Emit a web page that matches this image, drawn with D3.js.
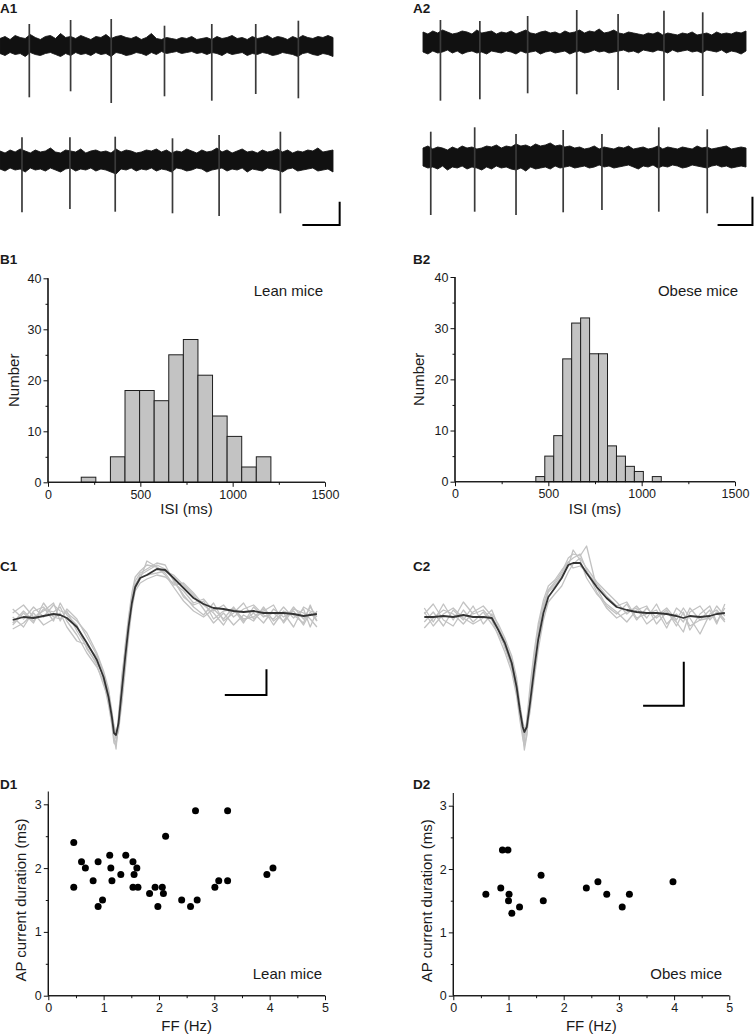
<!DOCTYPE html>
<html><head><meta charset="utf-8">
<script src="https://cdn.jsdelivr.net/npm/d3@7"></script>
<style>
body{margin:0;background:#fff}
svg{display:block}
text{font-family:Arial,"Liberation Sans",Helvetica,sans-serif;fill:#1a1a1a}
</style>
</head><body>
<svg id="fig" width="755" height="1035"></svg>
<script>
// ---------------- DATA ----------------
// A: extracellular traces (time in s, amplitude in a.u.), noise envelope sampled evenly over 0-5 s
const noiseSamples = 67;
const a1TopUpper = [7,9,6,10,8,7,11,8,6,9,10,7,12,8,9,7,10,8,6,9,8,11,7,9,10,8,7,9,6,8,12,7,6,8,7,6,8,7,9,6,7,8,6,9,7,8,10,7,8,6,9,7,8,10,7,9,8,6,9,7,10,8,7,9,8,10,8];
const a1TopLower = [-8,-10,-7,-9,-8,-11,-7,-9,-10,-8,-7,-9,-11,-8,-10,-7,-9,-8,-10,-7,-9,-8,-11,-7,-8,-10,-9,-7,-8,-10,-7,-9,-6,-8,-7,-6,-8,-7,-6,-8,-7,-9,-7,-8,-10,-7,-9,-8,-7,-10,-8,-9,-7,-8,-10,-9,-7,-8,-9,-11,-8,-7,-9,-10,-8,-9,-11];
const a1TopSpikeT = [0.44,1.06,1.67,2.47,3.18,3.84,4.48];
const a1TopSpikeUp = [21.5,25.5,26.5,19.8,21.5,21.5,24.8];
const a1TopSpikeDown = [51.8,45.8,57.5,50.8,55.2,48.5,52.8];

const a1BotUpper = [9,7,10,8,11,9,7,10,8,9,12,8,7,10,9,8,11,7,9,10,8,9,7,11,8,10,9,7,8,10,9,11,8,10,7,9,8,11,9,7,10,8,9,12,8,10,7,9,11,8,9,7,10,8,9,11,8,10,7,9,8,10,9,12,8,9,10];
const a1BotLower = [-9,-11,-8,-10,-9,-12,-8,-10,-9,-11,-8,-10,-12,-9,-8,-11,-9,-10,-8,-11,-9,-10,-12,-14,-9,-10,-8,-11,-9,-10,-8,-11,-9,-10,-12,-8,-9,-11,-10,-8,-9,-12,-10,-9,-8,-11,-9,-10,-8,-12,-9,-10,-11,-8,-9,-10,-12,-9,-8,-11,-10,-9,-8,-11,-10,-9,-12];
const a1BotSpikeT = [0.33,1.05,1.73,2.59,3.29,4.21];
const a1BotSpikeUp = [22.7,22.7,23.3,21.7,25,28.3];
const a1BotSpikeDown = [52.3,49,51.7,53.3,56,53.3];

const a2TopUpper = [10,8,11,9,12,10,8,9,11,10,8,12,9,10,11,8,10,9,11,8,10,12,9,8,10,11,9,10,8,11,9,10,12,9,11,10,13,9,10,12,9,8,10,9,8,7,9,8,10,7,9,8,7,9,8,10,7,8,9,7,10,8,9,8,10,9,11];
const a2TopLower = [-10,-12,-9,-11,-10,-8,-11,-9,-12,-10,-9,-11,-10,-12,-9,-10,-11,-9,-10,-12,-9,-11,-10,-9,-12,-10,-9,-11,-10,-9,-12,-10,-9,-11,-10,-8,-10,-9,-11,-10,-9,-8,-10,-9,-11,-8,-9,-10,-8,-9,-11,-8,-10,-9,-8,-10,-9,-11,-8,-9,-10,-8,-11,-9,-10,-12,-9];
const a2TopSpikeT = [0.27,0.88,1.62,2.38,3.02,3.73,4.33];
const a2TopSpikeUp = [22,21,26,32,28,31.3,29.7];
const a2TopSpikeDown = [58.7,57.3,51.3,52.3,48,58.7,54];

const a2BotUpper = [9,11,8,10,9,7,10,8,11,9,10,8,9,11,10,12,9,11,10,13,11,12,10,13,11,12,14,11,12,10,11,9,10,8,9,11,8,10,9,8,10,9,11,8,9,10,8,9,11,8,10,9,8,10,9,8,11,9,10,8,9,10,11,8,9,10,9];
const a2BotLower = [-9,-11,-10,-12,-9,-13,-10,-11,-9,-12,-10,-11,-13,-10,-12,-9,-11,-10,-12,-13,-11,-14,-10,-12,-11,-10,-12,-9,-11,-10,-9,-11,-10,-9,-11,-10,-8,-10,-9,-11,-10,-9,-8,-10,-12,-9,-10,-8,-11,-9,-10,-8,-9,-11,-10,-8,-9,-10,-11,-9,-8,-10,-9,-11,-10,-9,-10];
const a2BotSpikeT = [0.12,0.80,1.44,2.17,2.77,3.65,4.40];
const a2BotSpikeUp = [25.3,29.7,23,27,23,29.7,27.7];
const a2BotSpikeDown = [58,54.7,58,55.3,53,54.7,56.3];

// B: ISI histograms
const leanBinEdges = [180,259,338,417,496,575,654,733,812,891,970,1049,1128,1207];
const leanCounts = [1,0,5,18,18,16,25,28,21,13,9,3,5];
const obeseBinEdges = [433,481,529,577,625,673,721,769,817,865,913,961,1009,1057,1105];
const obeseCounts = [1,5,9,24,31,32,25,25,7,5,3,2,0,1];
const isiTicks = [0,500,1000,1500];
const countTicks = [0,10,20,30,40];

// C: AP current waveforms (time ms, amplitude a.u.)
const c1Time = [0,0.26,0.50,0.74,0.98,1.14,1.30,1.54,1.78,2.02,2.18,2.30,2.38,2.43,2.48,2.54,2.62,2.70,2.78,2.86,2.94,3.06,3.22,3.46,3.66,3.86,4.10,4.34,4.58,4.82,5.06,5.30,5.54,5.78,6.02,6.26,6.50,6.74,6.98,7.14,7.30];
const c1Mean = [-5,-2,-3,-1,1,0,-3,-12,-28,-45,-62,-82,-102,-118,-120,-108,-75,-42,-12,12,28,37,40,46,45,37,27,17,11,7,6,4,3,4,2,2,2,1,-1,0,1];
const c1Sweep1 = [-8,4,-6,6,3,8,-6,-20,-38,-52,-66,-90,-110,-128,-130,-112,-70,-30,-2,22,38,44,50,48,40,28,14,4,-2,6,-4,8,-6,2,-8,6,-2,4,-10,3,-6];
const c1Sweep2 = [6,-4,8,-2,10,4,2,-6,-18,-38,-56,-74,-96,-114,-124,-116,-88,-55,-22,6,24,32,36,40,38,32,24,12,16,4,10,-2,6,10,0,-4,8,-3,6,-12,4];
const c1Sweep3 = [-14,-8,2,-10,-4,2,-12,-26,-30,-42,-64,-86,-104,-122,-134,-104,-60,-34,-8,18,34,42,46,52,50,34,20,8,0,12,-6,2,12,-4,4,10,-8,6,2,-4,-12];
const c1Sweep4 = [2,10,-2,4,12,-6,6,-4,-22,-40,-58,-80,-98,-110,-118,-112,-84,-46,-16,8,30,38,40,42,44,40,30,20,6,-8,2,-10,0,-6,8,-6,2,-12,8,4,2];
const c1Sweep5 = [-2,-12,4,8,-6,12,0,-10,-34,-48,-60,-76,-106,-124,-128,-100,-66,-38,-10,16,26,36,54,48,42,30,32,22,10,2,-10,6,-8,8,-2,2,-6,8,-4,8,-2];
const c1Sweep6 = [-10,2,-8,12,-2,-4,4,-16,-32,-50,-70,-84,-100,-116,-122,-106,-72,-40,-14,10,30,40,44,50,46,36,18,10,14,-4,4,6,-4,-2,6,-10,4,0,-8,10,-6];

const c2Time = [0,0.22,0.47,0.71,0.96,1.20,1.45,1.66,1.82,1.98,2.15,2.27,2.35,2.42,2.46,2.52,2.60,2.70,2.80,2.93,3.05,3.21,3.38,3.54,3.66,3.83,3.99,4.24,4.48,4.73,4.98,5.22,5.47,5.71,5.96,6.20,6.37,6.53,6.78,7.02,7.19,7.39];
const c2Mean = [-1,-1,0,-1,1,-1,-1,-2,-14,-27,-47,-71,-94,-111,-116,-111,-87,-54,-24,3,19,28,38,51,53,53,43,29,18,9,6,4,3,3,2,0,-2,0,-1,0,2,3];
const c2Sweep1 = [8,-6,12,-4,14,2,6,-4,-20,-36,-56,-80,-104,-122,-130,-118,-80,-44,-12,10,26,34,44,58,62,60,70,28,10,2,12,-4,8,-2,6,-10,4,-14,2,10,-6,8];
const c2Sweep2 = [-6,4,-10,6,-4,10,-8,2,-8,-22,-40,-62,-88,-106,-112,-114,-96,-64,-34,-4,14,22,30,44,52,58,48,34,24,14,2,10,-2,12,-8,2,-6,8,-4,-2,10,0];
const c2Sweep3 = [2,12,-4,-10,6,-6,4,-8,-18,-30,-52,-76,-98,-118,-134,-120,-84,-48,-18,8,24,30,40,50,66,56,38,22,12,4,-6,6,10,-8,4,-6,-16,4,10,-4,4,-6];
const c2Sweep4 = [-12,-2,6,2,-8,4,10,0,-12,-24,-44,-68,-90,-108,-120,-106,-78,-42,-16,12,26,32,42,54,48,50,44,32,20,10,14,-2,2,6,-12,8,2,-10,-4,6,-8,12];
const c2Sweep5 = [4,-10,2,8,-2,-8,-2,6,-10,-32,-50,-72,-96,-114,-126,-104,-70,-36,-8,16,30,36,46,54,58,62,46,24,8,-2,4,8,-8,0,8,-4,8,-2,-18,2,6,-4];

// D: FF vs AP current duration
const leanFF  = [0.46,0.46,0.60,0.67,0.81,0.90,0.90,0.98,1.11,1.13,1.15,1.31,1.40,1.53,1.55,1.53,1.60,1.62,1.83,1.93,1.98,2.06,2.08,2.12,2.41,2.57,2.66,2.69,3.01,3.08,3.24,3.24,3.95,4.06];
const leanDur = [2.4,1.7,2.1,2.0,1.8,2.1,1.4,1.5,2.2,2.0,1.8,1.9,2.2,2.1,1.9,1.7,2.0,1.7,1.6,1.7,1.4,1.7,1.6,2.5,1.5,1.4,2.9,1.5,1.7,1.8,2.9,1.8,1.9,2.0];
const obeseFF  = [0.59,0.86,0.89,0.99,1.01,1.00,1.06,1.20,1.59,1.63,2.41,2.62,2.78,3.06,3.19,3.98];
const obeseDur = [1.6,1.7,2.3,2.3,1.6,1.5,1.3,1.4,1.9,1.5,1.7,1.8,1.6,1.4,1.6,1.8];
const ffTicks = [0,1,2,3,4,5];
const durTicks = [0,1,2,3];

// ---------------- DRAW ----------------
const svg = d3.select("#fig");

function panelLabel(txt, x, y){
  svg.append("text").attr("x",x).attr("y",y).attr("font-size",13.5).attr("font-weight","bold").text(txt);
}

// ---- A traces ----
function drawTrace(g, xs, baseY, upper, lower, spT, spUp, spDown){
  const y = d3.scaleLinear().domain([-60,40]).range([baseY+60, baseY-40]);
  const tGrid = d3.range(noiseSamples).map(i => xs.domain()[1]*i/(noiseSamples-1));
  const band = tGrid.map((t,i)=>({t, u:upper[i], l:lower[i]}));
  g.append("path").datum(band)
    .attr("d", d3.area().x(d=>xs(d.t)).y0(d=>y(d.l)).y1(d=>y(d.u)).curve(d3.curveLinear))
    .attr("fill","#111").attr("stroke","#161616").attr("stroke-width",0.9).attr("stroke-linejoin","miter");
  g.selectAll(null).data(spT.map((t,i)=>({t, up:spUp[i], dn:spDown[i]}))).join("line")
    .attr("x1",d=>xs(d.t)).attr("x2",d=>xs(d.t))
    .attr("y1",d=>y(d.up)).attr("y2",d=>y(-d.dn))
    .attr("stroke","#3a3a3a").attr("stroke-width",1.7);
  return y;
}
function scaleBar(g, xs, ys, t0, a0, dt, da){
  g.append("path")
    .attr("d", `M${xs(t0-dt)},${ys(a0)}L${xs(t0)},${ys(a0)}L${xs(t0)},${ys(a0+da)}`)
    .attr("fill","none").attr("stroke","#000").attr("stroke-width",2);
}
{
  const gA = svg.append("g");
  const xA1 = d3.scaleLinear().domain([0,5]).range([0,333]);
  const xA2 = d3.scaleLinear().domain([0,5]).range([423,746]);
  drawTrace(gA, xA1, 45.5, a1TopUpper, a1TopLower, a1TopSpikeT, a1TopSpikeUp, a1TopSpikeDown);
  const yA1b = drawTrace(gA, xA1, 160, a1BotUpper, a1BotLower, a1BotSpikeT, a1BotSpikeUp, a1BotSpikeDown);
  drawTrace(gA, xA2, 42, a2TopUpper, a2TopLower, a2TopSpikeT, a2TopSpikeUp, a2TopSpikeDown);
  const yA2b = drawTrace(gA, xA2, 157, a2BotUpper, a2BotLower, a2BotSpikeT, a2BotSpikeUp, a2BotSpikeDown);
  scaleBar(gA, xA1, yA1b, 5.1, -65, 0.56, 23.3);
  scaleBar(gA, xA2, yA2b, 5.1, -68, 0.54, 28.3);
}
panelLabel("A1", 0, 13);
panelLabel("A2", 413, 13);

// ---- axes helper ----
function axes(g, x, y, xMajor, xMinor, yMajor, yMinor, xFmt){
  const ax = g.append("g").attr("transform",`translate(0,${y.range()[0]})`)
    .call(d3.axisBottom(x).tickValues(xMinor).tickSize(2.5).tickFormat(""));
  const ax2 = g.append("g").attr("transform",`translate(0,${y.range()[0]})`)
    .call(d3.axisBottom(x).tickValues(xMajor).tickSize(4.5).tickPadding(3).tickFormat(xFmt||d3.format("d")));
  const ay = g.append("g").attr("transform",`translate(${x.range()[0]},0)`)
    .call(d3.axisLeft(y).tickValues(yMinor).tickSize(2.5).tickFormat(""));
  const ay2 = g.append("g").attr("transform",`translate(${x.range()[0]},0)`)
    .call(d3.axisLeft(y).tickValues(yMajor).tickSize(4.5).tickPadding(2).tickFormat(d3.format("d")));
  [ax,ax2,ay,ay2].forEach(s=>{
    s.selectAll("path.domain").attr("stroke","#111").attr("stroke-width",1.1);
    s.selectAll(".tick line").attr("stroke","#111").attr("stroke-width",1);
    s.selectAll(".tick text").attr("font-size",12.5).attr("fill","#1a1a1a")
      .attr("font-family","Arial, 'Liberation Sans', sans-serif");
  });
  [ax,ax2].forEach(s=>s.select("path.domain").attr("d",`M${x.range()[0]},0H${x.range()[1]}`));
  [ay,ay2].forEach(s=>s.select("path.domain").attr("d",`M0,${y.range()[0]}V${y.range()[1]}`));
}

// ---- B histograms ----
function histogram(binEdges, counts, xr, yr, label, labelX, titleX){
  const g = svg.append("g");
  const x = d3.scaleLinear().domain([0,1500]).range(xr);
  const y = d3.scaleLinear().domain([0,40]).range(yr);
  const bars = counts.map((c,i)=>({x0:binEdges[i], x1:binEdges[i+1], c})).filter(d=>d.c>0);
  g.selectAll("rect").data(bars).join("rect")
    .attr("x",d=>x(d.x0)).attr("width",d=>x(d.x1)-x(d.x0))
    .attr("y",d=>y(d.c)).attr("height",d=>y(0)-y(d.c))
    .attr("fill","#c3c3c3").attr("stroke","#1e1e1e").attr("stroke-width",1);
  axes(g, x, y, isiTicks, [250,750,1250], countTicks, [5,15,25,35]);
  g.append("text").attr("x",(xr[0]+xr[1])/2).attr("y",514).attr("text-anchor","middle").attr("font-size",15).text("ISI (ms)");
  g.append("text").attr("transform",`translate(${titleX},${(yr[0]+yr[1])/2}) rotate(-90)`)
    .attr("text-anchor","middle").attr("font-size",15).attr("dy","0.35em").text("Number");
  g.append("text").attr("x",labelX).attr("y",296).attr("text-anchor","end").attr("font-size",15).text(label);
}
histogram(leanBinEdges, leanCounts, [48,325], [482.3,278.3], "Lean mice", 323, 14);
histogram(obeseBinEdges, obeseCounts, [455,735], [481.7,277], "Obese mice", 738, 419);
panelLabel("B1", 0, 264);
panelLabel("B2", 413, 264);

// ---- C waveforms ----
function waveform(time, mean, sweeps, xr, x0, y0, barT, barA, barDT, barDA){
  const g = svg.append("g");
  const x = d3.scaleLinear().domain([0,1]).range([x0, x0+xr]);
  const y = d3.scaleLinear().domain([0,1]).range([y0, y0-1]);
  const line = vals => d3.line().x((d,i)=>x(time[i])).y(d=>y(d)).curve(d3.curveLinear)(vals);
  sweeps.forEach(s=>{
    g.append("path").attr("d",line(s)).attr("fill","none").attr("stroke","#c2c2c2").attr("stroke-width",1.3).attr("stroke-linejoin","round");
  });
  g.append("path").attr("d",line(mean)).attr("fill","none").attr("stroke","#333").attr("stroke-width",1.8).attr("stroke-linejoin","round");
  scaleBar(g, x, y, barT, barA, barDT, barDA);
}
waveform(c1Time, c1Mean, [c1Sweep1,c1Sweep2,c1Sweep3,c1Sweep4,c1Sweep5,c1Sweep6], 41.67, 12.7, 615, 6.09, -80, 1, 25.7);
waveform(c2Time, c2Mean, [c2Sweep1,c2Sweep2,c2Sweep3,c2Sweep4,c2Sweep5], 40.67, 424.3, 616, 6.38, -89.7, 1, 44);
panelLabel("C1", 0, 571);
panelLabel("C2", 413, 571);

// ---- D scatter ----
function scatter(ff, dur, xr, yr, label, labelX, titleX){
  const g = svg.append("g");
  const x = d3.scaleLinear().domain([0,5]).range(xr);
  const y = d3.scaleLinear().domain([0,3]).range(yr);
  axes(g, x, y, ffTicks, [0.5,1.5,2.5,3.5,4.5], durTicks, [0.5,1.5,2.5]);
  g.append("line").attr("x1",xr[0]).attr("x2",xr[0]).attr("y1",y(3)).attr("y2",y(3.2)).attr("stroke","#111").attr("stroke-width",1.1);
  g.selectAll("circle").data(ff.map((f,i)=>({f, d:dur[i]}))).join("circle")
    .attr("cx",d=>x(d.f)).attr("cy",d=>y(d.d)).attr("r",3.5).attr("fill","#000");
  g.append("text").attr("x",(xr[0]+xr[1])/2).attr("y",1031).attr("text-anchor","middle").attr("font-size",15).text("FF (Hz)");
  g.append("text").attr("transform",`translate(${titleX},${y(1.5)}) rotate(-90)`)
    .attr("text-anchor","middle").attr("font-size",15).attr("dy","0.35em").text("AP current duration (ms)");
  g.append("text").attr("x",labelX).attr("y",979).attr("text-anchor","end").attr("font-size",15).text(label);
}
scatter(leanFF, leanDur, [48.3,325], [995.7,804.3], "Lean mice", 322, 21);
scatter(obeseFF, obeseDur, [453.3,729.3], [995.7,805.7], "Obes mice", 722, 427);
panelLabel("D1", 0, 789);
panelLabel("D2", 413, 789);
</script>
</body></html>
